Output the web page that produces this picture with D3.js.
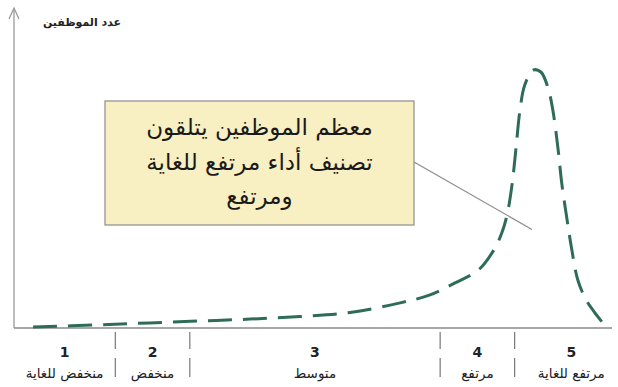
<!DOCTYPE html>
<html lang="ar">
<head>
<meta charset="utf-8">
<script src="https://cdn.jsdelivr.net/npm/d3@7/dist/d3.min.js"></script>
<style>
  html, body { margin: 0; padding: 0; background: #fff; }
  svg { display: block; }
  text { font-family: "DejaVu Sans", Arial, sans-serif; }
</style>
</head>
<body>
<svg id="chart" width="618" height="387"></svg>
<script>
// Rating bands: boundaries on the performance scale, number and name of each band
const bandEdges = [0, 17, 29.5, 71.5, 84, 103];
const bandNumbers = ["1", "2", "3", "4", "5"];
const bandNames = ["منخفض للغاية", "منخفض", "متوسط", "مرتفع", "مرتفع للغاية"];

// Distribution of employees over the performance scale
const curveScore = [3.2, 14.4, 22.8, 31.2, 39.6, 48.0, 56.4, 64.8, 69.8, 74.0, 77.9, 80.5, 81.9, 82.8, 83.6, 84.2, 84.9, 85.7, 87.1, 88.4, 89.6, 90.4, 91.3, 91.9, 92.8, 93.6, 94.6, 96.0, 97.5, 98.8];
const curveCount = [0.3, 1.0, 1.6, 2.2, 2.8, 3.6, 4.9, 7.9, 10.4, 14.2, 18.2, 24.5, 30.2, 36.2, 45.6, 56.0, 68.6, 76.4, 81.1, 80.5, 75.5, 68.6, 56.0, 45.6, 34.0, 24.5, 15.1, 8.8, 4.7, 1.6];

const yTitle = "عدد الموظفين";
const noteLines = ["معظم الموظفين يتلقون", "تصنيف أداء مرتفع للغاية", "ومرتفع"];
// Point on the curve the note refers to
const notePoint = { score: 86.9, count: 31 };

const svg = d3.select("#chart");
const x = d3.scaleLinear().domain([0, 100]).range([14, 610]);
const y = d3.scaleLinear().domain([0, 100]).range([328, 10]);

// Axes
svg.append("line").attr("x1", x(0)).attr("x2", 612).attr("y1", y(0)).attr("y2", y(0))
  .attr("stroke", "#8a8a8a").attr("stroke-width", 1.3);
svg.append("line").attr("x1", x(0)).attr("x2", x(0)).attr("y1", y(0)).attr("y2", 10)
  .attr("stroke", "#9a9a9a").attr("stroke-width", 1.3);
svg.append("path").attr("d", `M${x(0) - 5},${19} L${x(0)},${8} L${x(0) + 5},${19}`)
  .attr("fill", "none").attr("stroke", "#9a9a9a").attr("stroke-width", 1.3);

svg.append("text").attr("x", 82).attr("y", 26).attr("text-anchor", "middle")
  .attr("font-size", 11).attr("font-weight", "bold").attr("fill", "#222")
  .attr("direction", "rtl").text(yTitle);

// Band separators
const inner = bandEdges.slice(1, -1);
[[332, 349], [358, 377]].forEach(([a, b]) => {
  svg.selectAll(null).data(inner).enter().append("line")
    .attr("x1", d => x(d)).attr("x2", d => x(d))
    .attr("y1", a).attr("y2", b)
    .attr("stroke", "#777").attr("stroke-width", 1.2);
});

// Band labels
const mids = bandNumbers.map((_, i) => (bandEdges[i] + bandEdges[i + 1]) / 2);
svg.selectAll(null).data(bandNumbers).enter().append("text")
  .attr("x", (d, i) => x(mids[i])).attr("y", 357)
  .attr("text-anchor", "middle").attr("font-size", 14).attr("font-weight", "bold")
  .attr("fill", "#222").text(d => d);
svg.selectAll(null).data(bandNames).enter().append("text")
  .attr("x", (d, i) => x(mids[i])).attr("y", 378)
  .attr("text-anchor", "middle").attr("font-size", 13.5)
  .attr("fill", "#222").attr("direction", "rtl").text(d => d);

// Note box
const box = { x: 105, y: 101, w: 309, h: 124 };
svg.append("rect").attr("x", box.x).attr("y", box.y).attr("width", box.w).attr("height", box.h)
  .attr("fill", "#f8f0c3").attr("stroke", "#8c8c8c").attr("stroke-width", 1.2);
svg.selectAll(null).data(noteLines).enter().append("text")
  .attr("x", box.x + box.w / 2).attr("y", (d, i) => 135 + i * 34.5)
  .attr("text-anchor", "middle").attr("font-size", 23).attr("fill", "#1a1a1a")
  .attr("direction", "rtl").text(d => d);

// Pointer from box to the curve
svg.append("line").attr("x1", box.x + box.w).attr("y1", 162)
  .attr("x2", x(notePoint.score)).attr("y2", y(notePoint.count))
  .attr("stroke", "#8c8c8c").attr("stroke-width", 1.2);

// Distribution curve
const pts = curveScore.map((s, i) => [s, curveCount[i]]);
const line = d3.line().x(d => x(d[0])).y(d => y(d[1])).curve(d3.curveCatmullRom.alpha(0.5));
svg.append("path").datum(pts).attr("d", line)
  .attr("fill", "none").attr("stroke", "#2e6c58").attr("stroke-width", 3)
  .attr("stroke-dasharray", "24,11").attr("stroke-linecap", "butt");
</script>
</body>
</html>
